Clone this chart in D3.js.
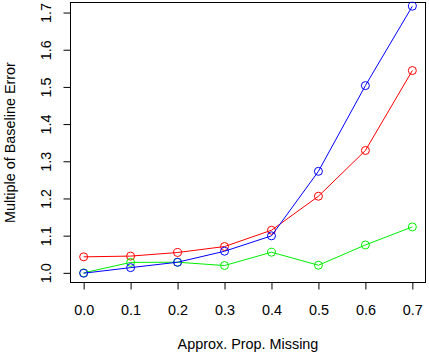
<!DOCTYPE html>
<html><head><meta charset="utf-8">
<script src="https://cdn.jsdelivr.net/npm/d3@7"></script>
<style>body{margin:0;background:#fff}svg{display:block}text{font-family:"Liberation Sans",Arial,sans-serif;font-size:14.4px;fill:#000}</style>
</head><body>
<svg id="c" width="429" height="357"></svg>
<script>
const xVals = [0.0, 0.1, 0.2, 0.3, 0.4, 0.5, 0.6, 0.7];
const blueVals = [0.999, 1.014, 1.0285, 1.058, 1.0995, 1.273, 1.5035, 1.717];
const redVals = [1.043, 1.045, 1.0546, 1.0707, 1.1145, 1.206, 1.329, 1.544];
const greenVals = [1.0, 1.028, 1.0285, 1.0196, 1.0554, 1.0204, 1.075, 1.1235];
const xTicks = [0.0, 0.1, 0.2, 0.3, 0.4, 0.5, 0.6, 0.7];
const yTicks = [1.0, 1.1, 1.2, 1.3, 1.4, 1.5, 1.6, 1.7];
const series = [
  {name: "red", color: "#ff0000", values: redVals},
  {name: "green", color: "#00ee00", values: greenVals},
  {name: "blue", color: "#0000ff", values: blueVals}
];

const svg = d3.select("#c");
const L = 70.5, R = 425.5, T = 2.5, B = 282.5;
const x = d3.scaleLinear().domain([-0.028, 0.728]).range([L, R]);
const y = d3.scaleLinear().domain([0.974, 1.727]).range([B, T]);

const xa = svg.append("g").attr("transform", `translate(0,${B})`)
  .call(d3.axisBottom(x).tickValues(xTicks).tickFormat(d3.format(".1f")).tickSizeOuter(0).tickSize(7));
xa.attr("font-size", null).attr("font-family", null);
xa.select(".domain").remove();
xa.selectAll("line").attr("stroke", "#000");
xa.selectAll("text").attr("y", 27).attr("dy", "0.35em").attr("fill", "#000");
xa.append("line").attr("x1", x(0)).attr("x2", x(0.7)).attr("stroke", "#000");

const ya = svg.append("g").attr("transform", `translate(${L},0)`)
  .call(d3.axisLeft(y).tickValues(yTicks).tickFormat(d3.format(".1f")).tickSizeOuter(0).tickSize(7));
ya.attr("font-size", null).attr("font-family", null);
ya.select(".domain").remove();
ya.selectAll("line").attr("stroke", "#000");
ya.selectAll(".tick text")
  .attr("x", null).attr("y", null).attr("dy", "0.35em").attr("fill", "#000")
  .attr("text-anchor", "middle")
  .attr("transform", "translate(-25,0) rotate(-90)");
ya.append("line").attr("x1", 0).attr("x2", 0).attr("y1", y(1.0)).attr("y2", y(1.7)).attr("stroke", "#000");

svg.append("rect").attr("x", L).attr("y", T).attr("width", R - L).attr("height", B - T)
  .attr("fill", "none").attr("stroke", "#000");

const line = d3.line().x((d, i) => x(xVals[i])).y(d => y(d));
series.forEach(s => {
  svg.append("path").datum(s.values).attr("d", line).attr("fill", "none")
    .attr("stroke", s.color).attr("stroke-width", 1);
  svg.selectAll(null).data(s.values).enter().append("circle")
    .attr("cx", (d, i) => x(xVals[i])).attr("cy", d => y(d)).attr("r", 4)
    .attr("fill", "none").attr("stroke", s.color).attr("stroke-width", 1);
});

svg.append("text").attr("x", (L + R) / 2).attr("y", 344).attr("dy", "0.35em").attr("text-anchor", "middle")
  .text("Approx. Prop. Missing");
svg.append("text").attr("transform", `translate(10,${(T + B) / 2}) rotate(-90)`)
  .attr("text-anchor", "middle").attr("dy", "0.35em").text("Multiple of Baseline Error");
</script>
</body></html>
